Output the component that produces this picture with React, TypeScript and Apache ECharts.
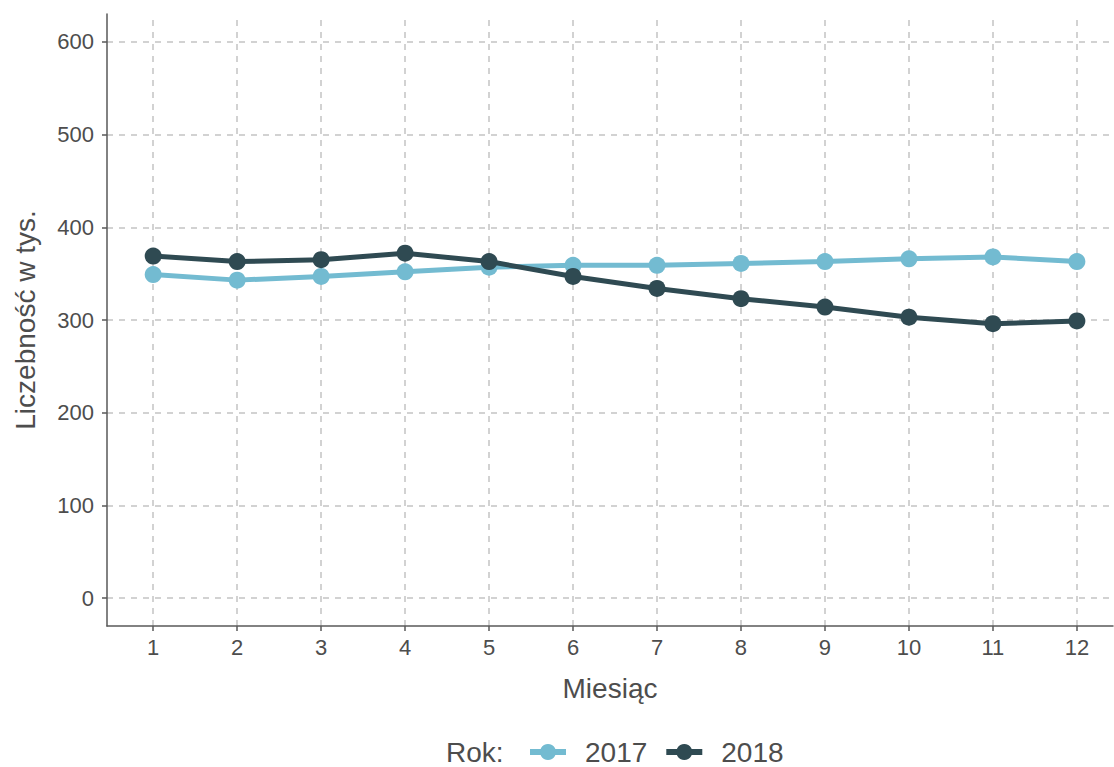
import React, { useEffect, useRef } from "react";
import * as echarts from "echarts";

const months = [1, 2, 3, 4, 5, 6, 7, 8, 9, 10, 11, 12];
const values2017 = [349, 343, 347, 352, 357, 359, 359, 361, 363, 366, 368, 363];
const values2018 = [369, 363, 365, 372, 363, 347, 334, 323, 314, 303, 296, 299];
const yTicks = [0, 100, 200, 300, 400, 500, 600];
const seriesNames = ["2017", "2018"];
const colors = ["#73BBD1", "#2F4A52"];

const FONT = "'Liberation Sans', Arial, sans-serif";
const TEXT = "#4D4D4D";

export default function App() {
  const ref = useRef<HTMLDivElement>(null);
  useEffect(() => {
    const chart = echarts.init(ref.current!, null, { renderer: "svg" });
    const gridStyle = { color: "#C4C4C4", width: 1.5, type: [6, 6] as any };
    const mk = (d: number[]) => d.map((v, i) => [months[i], v]);
    chart.setOption({
      animation: false,
      textStyle: { fontFamily: FONT },
      grid: { left: 107, right: 1, top: 14, bottom: 141 },
      xAxis: {
        type: "value",
        min: 0.45,
        max: 12.43,
        name: "Miesiąc",
        nameLocation: "middle",
        nameGap: 48,
        nameTextStyle: { fontSize: 28, color: TEXT, fontFamily: FONT },
        axisLine: { show: true, onZero: false, lineStyle: { color: "#595959", width: 1.5 } },
        axisTick: { show: true, customValues: months, length: 5, lineStyle: { color: "#595959", width: 1.5 } },
        axisLabel: { customValues: months, fontSize: 22, color: TEXT, margin: 10, fontFamily: FONT },
        splitLine: { show: false },
      },
      yAxis: {
        type: "value",
        min: -30,
        max: 630,
        name: "Liczebność w tys.",
        nameLocation: "middle",
        nameGap: 68,
        nameTextStyle: { fontSize: 28, color: TEXT, fontFamily: FONT },
        axisLine: { show: true, onZero: false, lineStyle: { color: "#595959", width: 1.5 } },
        axisTick: { show: true, customValues: yTicks, length: 5, lineStyle: { color: "#595959", width: 1.5 } },
        axisLabel: { customValues: yTicks, fontSize: 22, color: TEXT, margin: 13, fontFamily: FONT },
        splitLine: { show: false },
      },
      legend: {
        data: seriesNames,
        left: 522,
        top: 733,
        itemWidth: 36,
        itemHeight: 20,
        itemGap: 16,
        lineStyle: { width: 6 },
        textStyle: { fontSize: 28, color: TEXT, fontFamily: FONT, padding: [0, 0, 0, 14] },
      },
      graphic: [
        {
          type: "text",
          left: 446,
          top: 738,
          style: { text: "Rok:", fontSize: 28, fill: TEXT, fontFamily: FONT },
        },
      ],
      series: [
        {
          name: "__grid",
          type: "line",
          data: [],
          silent: true,
          z: 0,
          markLine: {
            silent: true,
            z: 0,
            symbol: "none",
            label: { show: false },
            lineStyle: gridStyle,
            data: [
              ...yTicks.map((v) => ({ yAxis: v })),
              ...months.map((m) => ({ xAxis: m })),
            ],
          },
        },
        ...[values2017, values2018].map((vals, i) => ({
          name: seriesNames[i],
          type: "line",
          data: mk(vals),
          symbol: "circle",
          symbolSize: 17,
          lineStyle: { width: 5, color: colors[i] },
          itemStyle: { color: colors[i] },
          z: 3 + i,
        })),
      ],
    });
    return () => chart.dispose();
  }, []);
  return <div ref={ref} style={{ width: 1114, height: 767, position: "absolute", left: 0, top: 0 }} />;
}
